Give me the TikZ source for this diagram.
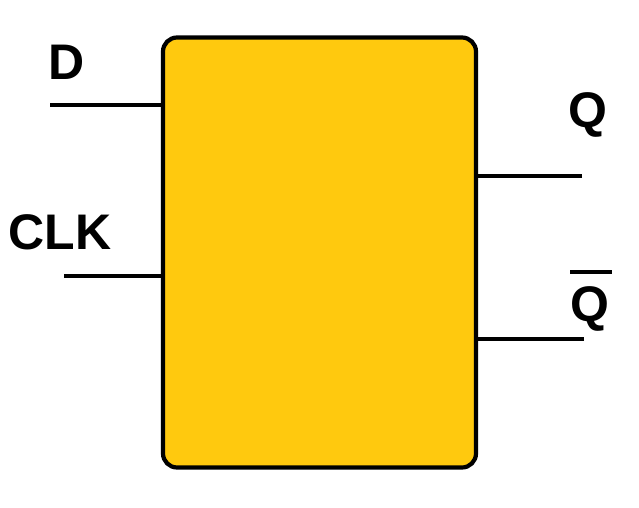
\documentclass[tikz,border=0pt]{standalone}
\usepackage{fontspec}
\setmainfont{Liberation Sans}
\usetikzlibrary{positioning,calc}
\definecolor{chipyellow}{RGB}{255,201,14}

\begin{document}
\begin{tikzpicture}[x=1pt,y=-1pt,line width=4.2pt,
  every node/.style={inner sep=0pt,font=\fontsize{50}{52}\selectfont\bfseries}]
  \useasboundingbox (0,0) rectangle (639,507);
  \node[draw=black,fill=chipyellow,rounded corners=14pt,minimum width=313pt,minimum height=430pt] (chip) at (319.5,252.5) {};
  \coordinate (D) at (50,105); \coordinate (CLK) at (64,276);
  \coordinate (Q) at (582,176); \coordinate (Qbar) at (584,339);
  \draw (D) -- (D -| chip.west);
  \draw (CLK) -- (CLK -| chip.west);
  \draw (Q) -- (Q -| chip.east);
  \draw (Qbar) -- (Qbar -| chip.east);
  \node (Dlabel) at (67,62) {D};
  \node (CLKlabel) at (60,232) {CLK};
  \node (Qlabel) at (588,115) {Q};
  \node (Qbarlabel) at (590,309) {Q};
  \coordinate (barleft) at (570,272); \coordinate (barright) at (612,272);
  \draw (barleft) -- (barright);
\end{tikzpicture}
\end{document}
